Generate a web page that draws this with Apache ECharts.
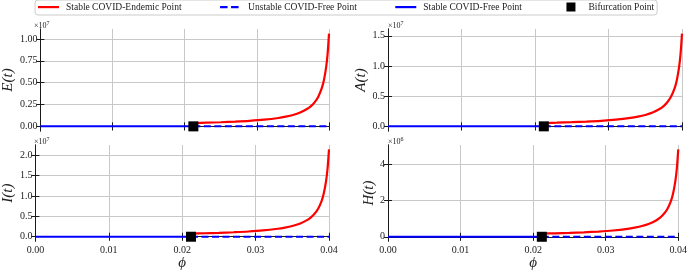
<!DOCTYPE html>
<html><head><meta charset="utf-8">
<script src="https://cdn.jsdelivr.net/npm/echarts@6/dist/echarts.min.js"></script>
<style>html,body{margin:0;padding:0;background:#fff}#c{width:690px;height:272px}</style>
</head><body><div id="c"></div>
<script>
// ---- data ----
const phiTicks = [0, 0.01, 0.02, 0.03, 0.04];
const phiBif = 0.0212;                 // bifurcation point
const phiStableFree = [0, phiBif];     // stable COVID-free branch (value 0)
const phiUnstableFree = [phiBif, 0.04];// unstable COVID-free branch (value 0)
const freeValues = [0, 0];
const phiEndemic = [0.0212,0.023,0.025,0.027,0.029,0.031,0.033,0.034,0.035,0.036,0.037,0.0375,0.038,0.0385,0.039,0.0393,0.0396,0.0398,0.04];
const E_endemic = [0.038,0.042,0.047,0.054,0.063,0.076,0.096,0.111,0.130,0.158,0.201,0.232,0.275,0.337,0.436,0.530,0.675,0.824,1.06];   // x1e7
const A_endemic = [0.055,0.061,0.069,0.079,0.092,0.111,0.140,0.161,0.189,0.229,0.291,0.336,0.399,0.489,0.632,0.769,0.979,1.195,1.535]; // x1e7
const I_endemic = [0.077,0.085,0.095,0.110,0.128,0.154,0.195,0.224,0.263,0.319,0.406,0.469,0.556,0.681,0.881,1.071,1.364,1.665,2.14];  // x1e7
const H_endemic = [0.174,0.192,0.216,0.247,0.289,0.348,0.440,0.508,0.595,0.724,0.920,1.062,1.259,1.543,1.996,2.427,3.09,3.77,4.85];    // x1e6
const E_ticks = [0, 0.25, 0.5, 0.75, 1.0];
const A_ticks = [0, 0.5, 1.0, 1.5];
const I_ticks = [0, 0.5, 1.0, 1.5, 2.0];
const H_ticks = [0, 2, 4];
const legendNames = ['Stable COVID-Endemic Point','Unstable COVID-Free Point','Stable COVID-Free Point','Bifurcation Point'];

// ---- layout ----
const FONT = 'Liberation Serif';
const panels = [
  {letter:'E', vals:E_endemic, ticks:E_ticks, dec:2, min:-0.053, max:1.113, exp:'7', left:34, top:29, width:295, height:102, xlab:false, gap:11.5},
  {letter:'A', vals:A_endemic, ticks:A_ticks, dec:1, min:-0.077, max:1.612, exp:'7', left:388, top:29, width:294, height:102, xlab:false, gap:14},
  {letter:'I', vals:I_endemic, ticks:I_ticks, dec:1, min:-0.107, max:2.247, exp:'7', left:34, top:145, width:295, height:101, xlab:true, gap:13.5},
  {letter:'H', vals:H_endemic, ticks:H_ticks, dec:0, min:-0.24, max:5.09, exp:'6', left:388, top:145, width:294, height:101, xlab:true, gap:1.5}
];
const zip = (a,b) => a.map((v,i)=>[v,b[i]]);
const grids=[], xAxes=[], yAxes=[], series=[], graphics=[];
const axisLine = {show:true, lineStyle:{color:'#1a1a1a', width:1}};
const tick = {show:true, inside:true, length:4, lineStyle:{color:'#1a1a1a', width:1}};
panels.forEach((p,i)=>{
  grids.push({left:p.left, top:p.top, width:p.width, height:p.height, containLabel:false});
  xAxes.push({gridIndex:i, type:'value', min:0, max:0.04, position:'bottom',
    axisLine, axisTick:{...tick, customValues:phiTicks},
    axisLabel:{show:p.xlab, customValues:phiTicks, formatter:v=>v.toFixed(2), fontFamily:FONT, fontSize:10, color:'#222', margin:4},
    splitLine:{show:true, lineStyle:{color:'#c8c8c8', width:1}},
    name: p.xlab ? 'ϕ' : '', nameLocation:'middle', nameGap:14,
    nameTextStyle:{fontFamily:FONT, fontStyle:'italic', fontSize:15, color:'#222'}});
  xAxes.push({gridIndex:i, type:'value', min:0, max:0.04, position:'top',
    axisLine, axisTick:{...tick, customValues:phiTicks}, axisLabel:{show:false}, splitLine:{show:false}});
  yAxes.push({gridIndex:i, type:'value', min:p.min, max:p.max, position:'left',
    axisLine, axisTick:{...tick, customValues:p.ticks},
    axisLabel:{customValues:p.ticks, formatter:v=>v.toFixed(p.dec), fontFamily:FONT, fontSize:10, color:'#222', margin:3},
    splitLine:{show:true, lineStyle:{color:'#c8c8c8', width:1}},
    name: p.letter+'(t)', nameLocation:'middle', nameGap:p.gap, nameRotate:90,
    nameTextStyle:{fontFamily:FONT, fontStyle:'italic', fontSize:15, color:'#222'}});
  yAxes.push({gridIndex:i, type:'value', min:p.min, max:p.max, position:'right',
    axisLine, axisTick:{...tick, customValues:p.ticks}, axisLabel:{show:false}, splitLine:{show:false}});
  const xi = 2*i, yi = 2*i;
  series.push({name:legendNames[2], type:'line', xAxisIndex:xi, yAxisIndex:yi, data:zip(phiStableFree, freeValues),
    symbol:'none', lineStyle:{color:'#0000ff', width:2}, itemStyle:{color:'#0000ff'}, z:2, animation:false});
  series.push({name:legendNames[1], type:'line', xAxisIndex:xi, yAxisIndex:yi, data:zip(phiUnstableFree, freeValues),
    symbol:'none', lineStyle:{color:'#0000ff', width:2, type:[7,3.5]}, itemStyle:{color:'#0000ff'}, z:2, animation:false});
  series.push({name:legendNames[0], type:'line', xAxisIndex:xi, yAxisIndex:yi, data:zip(phiEndemic, p.vals),
    symbol:'none', smooth:0.3, lineStyle:{color:'#ff0000', width:2.2}, itemStyle:{color:'#ff0000'}, z:3, animation:false});
  series.push({name:legendNames[3], type:'scatter', xAxisIndex:xi, yAxisIndex:yi, data:[[phiBif,0]],
    symbol:'rect', symbolSize:10, itemStyle:{color:'#000', opacity:1}, z:4, animation:false});
  graphics.push({type:'text', left:p.left, top:p.top-7, style:{text:'×10', font:'8px "Liberation Serif"', fill:'#222'}});
  graphics.push({type:'text', left:p.left+12.5, top:p.top-9, style:{text:p.exp, font:'6px "Liberation Serif"', fill:'#222'}});
});

const chart = echarts.init(document.getElementById('c'), null, {renderer:'canvas'});
chart.setOption({
  animation:false,
  backgroundColor:'#fff',
  legend:{left:35, top:0, itemWidth:21, itemHeight:10, itemGap:38.5, padding:[2,3,3,3],
    borderColor:'#cccccc', borderWidth:1, borderRadius:3,
    textStyle:{fontFamily:FONT, fontSize:9.5, color:'#222', padding:[0,0,0,2]},
    data:[
      {name:legendNames[0], icon:'path://M0,0M21,10M0,4h21v2.2h-21z'},
      {name:legendNames[1], icon:'path://M0,0M21,10M0,4h7.5v2.2h-7.5zM11,4h7.5v2.2h-7.5z'},
      {name:legendNames[2], icon:'path://M0,0M21,10M0,4h21v2.2h-21z'},
      {name:legendNames[3], icon:'path://M0,0M21,10M6,0.5h9v9h-9z'}]},
  grid:grids, xAxis:xAxes, yAxis:yAxes, series, graphic:graphics
});
</script></body></html>
